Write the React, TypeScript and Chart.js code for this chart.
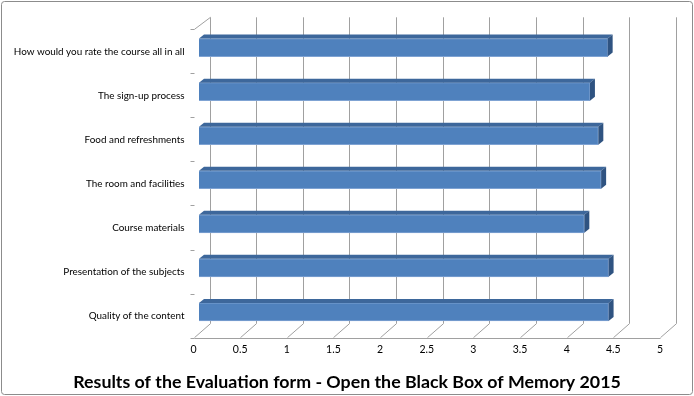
import { useEffect, useRef } from "react";
import { Chart, registerables } from "chart.js";

Chart.register(...registerables);

const categories = [
  "How would you rate the course all in all",
  "The sign-up process",
  "Food and refreshments",
  "The room and facilities",
  "Course materials",
  "Presentation of the subjects",
  "Quality of the content",
];
const scores = [4.38, 4.19, 4.28, 4.31, 4.13, 4.39, 4.39];
const chartTitle = "Results of the Evaluation form - Open the Black Box of Memory 2015";
const axisMin = 0;
const axisMax = 5;
const axisStep = 0.5;

const FONT = "Lato, 'Open Sans', sans-serif";
const DEPTH_X = 16;
const DEPTH_Y_TOP = 12;
const DEPTH_Y_BOTTOM = 14;
const BAR_DX = 5.5;
const BAR_DY = -3.7;
const FACE_DX = 5;
const FACE_DY = 4;

const line = (ctx: CanvasRenderingContext2D, x1: number, y1: number, x2: number, y2: number) => {
  ctx.beginPath();
  ctx.moveTo(x1, y1);
  ctx.lineTo(x2, y2);
  ctx.stroke();
};

const threeD = {
  id: "threeD",
  beforeDatasetsDraw(chart: any) {
    const { ctx, chartArea, scales } = chart;
    const xs = scales.x;
    const top = chartArea.top;
    const bottom = chartArea.bottom;
    const backTop = top - DEPTH_Y_TOP;
    const backBottom = bottom - DEPTH_Y_BOTTOM;
    ctx.save();
    ctx.strokeStyle = "#A0A0A0";
    ctx.lineWidth = 1;
    for (const t of xs.ticks) {
      const px = Math.round(xs.getPixelForValue(t.value)) + 0.5;
      line(ctx, px + DEPTH_X, backTop, px + DEPTH_X, backBottom);
      line(ctx, px, bottom, px + DEPTH_X, backBottom);
    }
    const x0 = Math.round(xs.getPixelForValue(axisMin)) + 0.5;
    const x5 = Math.round(xs.getPixelForValue(axisMax)) + 0.5;
    const yb = Math.round(bottom) + 0.5;
    line(ctx, x0, yb, x5, yb);
    line(ctx, x0, top, x0 + DEPTH_X, backTop);
    const n = categories.length;
    for (let i = 0; i <= n; i++) {
      const y = Math.round(top + (i * (bottom - top)) / n) + 0.5;
      line(ctx, x0 - 4, y, x0, y);
    }
    ctx.restore();
    ctx.save();
    ctx.translate(BAR_DX, BAR_DY);
  },
  afterDatasetsDraw(chart: any) {
    const ctx = chart.ctx;
    const meta = chart.getDatasetMeta(0);
    for (const el of meta.data) {
      const { x, y, base, height } = el.getProps(["x", "y", "base", "height"], true);
      const t = y - height / 2;
      const b = y + height / 2;
      ctx.fillStyle = "#3D679B";
      ctx.beginPath();
      ctx.moveTo(base, t);
      ctx.lineTo(x, t);
      ctx.lineTo(x + FACE_DX, t - FACE_DY);
      ctx.lineTo(base + FACE_DX, t - FACE_DY);
      ctx.closePath();
      ctx.fill();
      ctx.fillStyle = "#2F5381";
      ctx.beginPath();
      ctx.moveTo(x, t);
      ctx.lineTo(x + FACE_DX, t - FACE_DY);
      ctx.lineTo(x + FACE_DX, b - FACE_DY);
      ctx.lineTo(x, b);
      ctx.closePath();
      ctx.fill();
    }
    ctx.restore();
  },
  afterDraw(chart: any) {
    const { ctx, width, height } = chart;
    ctx.save();
    ctx.strokeStyle = "#8C8C8C";
    ctx.lineWidth = 1;
    ctx.beginPath();
    (ctx as any).roundRect(1.5, 1.5, width - 3, height - 3, 3);
    ctx.stroke();
    ctx.restore();
  },
};

export default function App() {
  const ref = useRef<HTMLCanvasElement | null>(null);
  useEffect(() => {
    if (!ref.current) return;
    const chart = new Chart(ref.current, {
      type: "bar",
      data: {
        labels: categories,
        datasets: [
          {
            data: scores,
            backgroundColor: "#4F81BD",
            borderColor: "#7FA3D3",
            borderWidth: 1,
            barThickness: 18,
          },
        ],
      },
      options: {
        indexAxis: "y",
        responsive: false,
        animation: false,
        devicePixelRatio: 1,
        layout: { padding: { top: 29.3, right: 0, left: 0, bottom: 0 } },
        plugins: {
          legend: { display: false },
          tooltip: { enabled: false },
          title: {
            display: true,
            text: chartTitle,
            position: "bottom",
            color: "#000",
            font: { family: FONT, size: 17.8, weight: "bold" },
            padding: { top: 6, bottom: 3 },
          },
        },
        scales: {
          x: {
            min: axisMin,
            max: axisMax,
            ticks: {
              stepSize: axisStep,
              color: "#000",
              font: { family: FONT, size: 10.5 },
              padding: 6,
              callback: (v: any) => String(Number(v)),
            },
            grid: { display: false, drawTicks: false },
            border: { display: false },
            afterFit: (s: any) => {
              s.height = 28;
            },
          },
          y: {
            ticks: { color: "#000", font: { family: FONT, size: 9.9 }, padding: 9 },
            grid: { display: false, drawTicks: false },
            border: { display: false },
            afterFit: (s: any) => {
              s.width = 193.5;
            },
          },
          yRight: {
            type: "linear",
            position: "right",
            display: true,
            ticks: { display: false },
            grid: { display: false, drawTicks: false },
            border: { display: false },
            afterFit: (s: any) => {
              s.width = 34;
            },
          },
        },
      },
      plugins: [threeD],
    } as any);
    return () => chart.destroy();
  }, []);
  return (
    <div style={{ position: "fixed", left: 0, top: 0, width: 694, height: 396, background: "#fff" }}>
      <canvas ref={ref} width={694} height={396} />
    </div>
  );
}
